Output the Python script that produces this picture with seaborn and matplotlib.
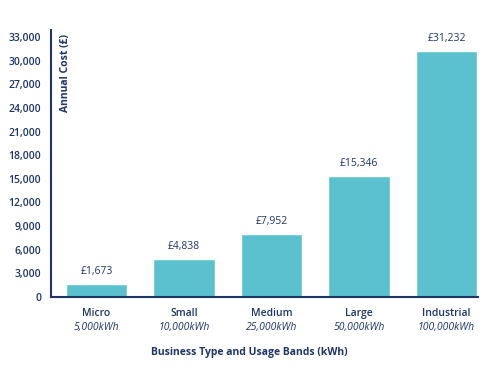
import numpy as np
import pandas as pd
import matplotlib
matplotlib.use("Agg")
import matplotlib.pyplot as plt
import seaborn as sns

# data
categories = ["Micro", "Small", "Medium", "Large", "Industrial"]
usage_bands = ["5,000kWh", "10,000kWh", "25,000kWh", "50,000kWh", "100,000kWh"]
annual_cost = [1673, 4838, 7952, 15346, 31232]
y_ticks = list(range(0, 33001, 3000))

NAVY = "#1d3567"
TEAL = "#5bc1ce"

sns.set_theme(style="white")
plt.rcParams["font.family"] = ["Open Sans", "DejaVu Sans"]

df = pd.DataFrame({"category": categories, "cost": annual_cost})

fig = plt.figure(figsize=(4.99, 3.75), dpi=100)
ax = fig.add_axes([51 / 499, 1 - 297 / 375, 427 / 499, 267 / 375])

sns.barplot(data=df, x="category", y="cost", color=TEAL, saturation=1,
            width=0.7, ax=ax)

ax.set_xlim(-0.52, 4.36)
ax.set_ylim(0, 33900)
ax.set_yticks(y_ticks)
ax.set_yticklabels([f"{v:,}" for v in y_ticks], fontsize=7.5,
                   fontweight="semibold", color=NAVY)
ax.tick_params(axis="y", length=0, pad=7)
ax.tick_params(axis="x", length=0, pad=8)
ax.set_xticks(range(len(categories)))
ax.set_xticklabels(categories, fontsize=7.5, fontweight="semibold", color=NAVY)

for i, band in enumerate(usage_bands):
    ax.annotate(band, xy=(i, 0), xycoords=("data", "axes fraction"),
                xytext=(0, -22), textcoords="offset points",
                ha="center", va="center", fontsize=7.5, style="italic",
                color=NAVY)

ax.bar_label(ax.containers[0], labels=[f"£{v:,}" for v in annual_cost],
             padding=5, fontsize=7.5, color=NAVY)

ax.set_xlabel("")
ax.set_ylabel("")
fig.text(0.5, 1 - 352 / 375,
         "Business Type and Usage Bands (kWh)", ha="center", va="center",
         fontsize=7.5, fontweight="bold", color=NAVY)
fig.text(60 / 499, 1 - 34 / 375, "Annual Cost (£)", rotation=90,
         ha="left", va="top", fontsize=7.5, fontweight="bold", color=NAVY)

for side in ["top", "right"]:
    ax.spines[side].set_visible(False)
for side in ["left", "bottom"]:
    ax.spines[side].set_color(NAVY)
    ax.spines[side].set_linewidth(1.5)

fig.savefig("out.png", dpi=100)
